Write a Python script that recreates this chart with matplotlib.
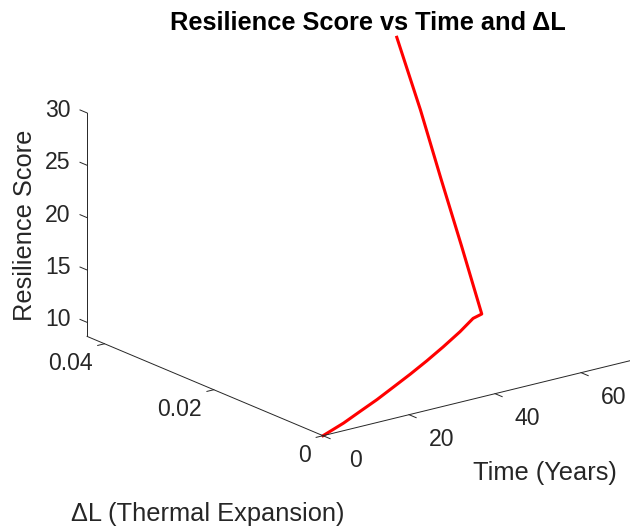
import matplotlib
matplotlib.use('Agg')
import matplotlib.pyplot as plt

plt.rcParams['font.family'] = ['Liberation Sans', 'DejaVu Sans']

# Données : temps, dilatation thermique et score de résilience
time_years = [0, 7.3, 13.7, 20.1, 26.8, 33.5, 40.4, 47.5, 55.0, 61.4, 64.1, 66.1, 68.0, 70.0, 72.0]
delta_L = [0, 0.00198, 0.00398, 0.00594, 0.00817, 0.01041, 0.01282, 0.01540, 0.01825, 0.02088,
           0.02142, 0.02670, 0.03200, 0.03729, 0.04320]
resilience = [8.66, 8.70, 8.74, 8.79, 8.84, 8.89, 8.94, 9.00, 9.06, 9.12, 9.15, 14.29, 19.42, 24.56, 30.0]

time_ticks = [0, 20, 40, 60]
dl_ticks = [0, 0.02, 0.04]
dl_tick_labels = ['0', '0.02', '0.04']
score_ticks = [10, 15, 20, 25, 30]

axis_col = '#262626'
tick_fs = 16.6
label_fs = 18.3

W, H = 630, 531
fig = plt.figure(figsize=(W / 100, H / 100), dpi=100)

# Axes 3D carré, centre de la boîte placé à la main
side = 500
cx, cy = 359.9, H - 236.5
left = (cx - 0.5135 * side) / W
bottom = (cy - 0.5135 * side) / H
ax = fig.add_axes([left, bottom, side / W, side / H], projection='3d', proj_type='ortho')
ax.view_init(elev=18.7, azim=-127.3)
ax.set_box_aspect((1, 1, 0.606), zoom=1.163)

t0, t1 = min(time_years), max(time_years)
d0, d1 = min(delta_L), max(delta_L)
z0, z1 = min(resilience), max(resilience)
ax.set_xlim(t0, t1)
ax.set_ylim(d0, d1)
ax.set_zlim(z0, z1)

# On cache les axes par défaut de mplot3d
ax.set_axis_off()
ax.set_xticks([])
ax.set_yticks([])
ax.set_zticks([])
for a in (ax.xaxis, ax.yaxis, ax.zaxis):
    for txt in (a.label, a.offsetText):
        txt.set_text('')
        txt.set_transform(ax.transAxes)
        txt.set_position((0.5, 0.5))
        txt.set_visible(False)

# Courbe principale
ax.plot(time_years, delta_L, resilience, color='#ff0000', lw=2.2, clip_on=False)

# Axes dessinés à la main (style plot3)
ax.plot([t0, t1], [d0, d0], [z0, z0], color=axis_col, lw=0.7, clip_on=False)
ax.plot([t0, t0], [d0, d1], [z0, z0], color=axis_col, lw=0.7, clip_on=False)
ax.plot([t0, t0], [d1, d1], [z0, z1], color=axis_col, lw=0.7, clip_on=False)

for tv in time_ticks:
    ax.plot([tv, tv], [d0, d0 - 0.0013], [z0, z0], color=axis_col, lw=0.7, clip_on=False)
    ax.text(tv, d0 - 0.0059, z0 - 1.06, str(tv), ha='center', va='center',
            fontsize=tick_fs, color=axis_col)

for dv, lab in zip(dl_ticks, dl_tick_labels):
    ax.plot([t0, t0 - 1.6], [dv, dv], [z0, z0], color=axis_col, lw=0.7, clip_on=False)
    ax.text(t0 - 2.8, dv, z0 - 1.63, lab, ha='right', va='center',
            fontsize=tick_fs, color=axis_col)

for zv in score_ticks:
    ax.plot([t0, t0], [d1, d1 + 0.0013], [zv, zv], color=axis_col, lw=0.7, clip_on=False)
    ax.text(t0, d1 + 0.00305, zv - 0.43, str(zv), ha='right', va='center',
            fontsize=tick_fs, color=axis_col)

# Titre et étiquettes
fig.text(367.5 / W, 1 - 22.5 / H, 'Resilience Score vs Time and ΔL', ha='center', va='center',
         fontsize=label_fs, fontweight='bold', color='black')
fig.text(25 / W, 1 - 225.8 / H, 'Resilience Score', rotation=90, ha='center', va='center',
         fontsize=label_fs, color=axis_col)
fig.text(545 / W, 1 - 473 / H, 'Time (Years)', ha='center', va='center',
         fontsize=label_fs, color=axis_col)
fig.text(207.5 / W, 1 - 514 / H, 'ΔL (Thermal Expansion)', ha='center', va='center',
         fontsize=label_fs, color=axis_col)

plt.savefig('out.png', dpi=100, facecolor='white')
